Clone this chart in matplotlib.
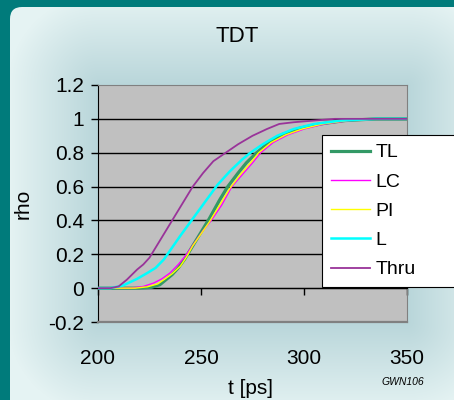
import numpy as np
import matplotlib.pyplot as plt
from matplotlib.patches import FancyBboxPatch
from matplotlib.colors import to_rgb

plt.rcParams['font.family'] = ['Liberation Sans', 'DejaVu Sans']

# data
t_tl = [200, 220, 226, 230, 233, 236, 239, 242, 245, 249, 254, 259, 263, 268, 272, 277, 283, 290, 298, 308, 320, 335, 350]
rho_tl = [0, 0, 0.005, 0.02, 0.05, 0.08, 0.12, 0.17, 0.23, 0.31, 0.41, 0.52, 0.60, 0.68, 0.74, 0.80, 0.86, 0.91, 0.945, 0.97, 0.99, 1.0, 1.0]
t_lc = [200, 216, 222, 227, 231, 235, 239, 243, 247, 251, 255, 260, 265, 270, 275, 279, 285, 292, 300, 310, 322, 337, 350]
rho_lc = [0, 0, 0.01, 0.03, 0.055, 0.09, 0.14, 0.20, 0.27, 0.34, 0.40, 0.49, 0.60, 0.67, 0.74, 0.80, 0.86, 0.905, 0.94, 0.97, 0.99, 1.0, 1.0]
t_pi = [200, 218, 224, 229, 232, 236, 240, 243, 246, 250, 254, 259, 264, 269, 274, 278, 284, 291, 299, 309, 321, 336, 350]
rho_pi = [0, 0, 0.008, 0.025, 0.05, 0.085, 0.13, 0.185, 0.25, 0.32, 0.39, 0.49, 0.59, 0.67, 0.74, 0.80, 0.86, 0.905, 0.94, 0.97, 0.99, 1.0, 1.0]
t_l = [200, 206, 212, 219, 224, 228, 232, 236, 240, 246, 252, 258, 264, 270, 274, 280, 287, 295, 305, 318, 335, 350]
rho_l = [0, 0, 0.015, 0.055, 0.09, 0.12, 0.17, 0.24, 0.31, 0.41, 0.51, 0.61, 0.69, 0.76, 0.80, 0.85, 0.90, 0.94, 0.97, 0.99, 1.0, 1.0]
t_thru = [200, 206, 210, 214, 219, 222, 225, 230, 236, 241, 246, 251, 256, 262, 268, 275, 282, 288, 295, 305, 315, 330, 350]
rho_thru = [0, 0, 0.01, 0.05, 0.11, 0.14, 0.18, 0.28, 0.40, 0.50, 0.60, 0.68, 0.75, 0.80, 0.85, 0.90, 0.94, 0.97, 0.98, 0.99, 1.0, 1.0, 1.0]

x_ticks = [200, 250, 300, 350]
y_ticks = [-0.2, 0, 0.2, 0.4, 0.6, 0.8, 1, 1.2]
y_labels = ['-0.2', '0', '0.2', '0.4', '0.6', '0.8', '1', '1.2']

W, H = 454, 400
fig = plt.figure(figsize=(W / 100, H / 100), dpi=100)
fig.patch.set_facecolor('#007b7b')

# light panel with a soft halo around the chart
bg = fig.add_axes([0, 0, 1, 1])
bg.set_xlim(0, W)
bg.set_ylim(H, 0)
bg.axis('off')
yy, xx = np.mgrid[0:H, 0:W]
x0, x1, y0, y1 = 98, 407, 85, 322
dx = np.maximum(np.maximum(x0 - xx, xx - x1), 0)
dy = np.maximum(np.maximum(y0 - yy, yy - y1), 0)
d = np.sqrt(dx ** 2 + dy ** 2)
f = np.clip(d / 90.0, 0, 1)[..., None]
c_near = np.array(to_rgb('#b9d6da'))
c_far = np.array(to_rgb('#e5f3f3'))
img = c_near * (1 - f) + c_far * f
im = bg.imshow(img, extent=(0, W, H, 0), zorder=0)
panel = FancyBboxPatch((10, 7), W + 40, H + 40, boxstyle='round,pad=0,rounding_size=12',
                       transform=bg.transData, facecolor='none', edgecolor='none')
bg.add_patch(panel)
im.set_clip_path(panel)

ax = fig.add_axes([x0 / W, 1 - y1 / H, (x1 - x0) / W, (y1 - y0) / H])
ax.set_facecolor('#c0c0c0')
ax.set_xlim(200, 350)
ax.set_ylim(-0.2, 1.2)

for y in y_ticks[1:-1]:
    ax.axhline(y, color='black', lw=1, zorder=1)

ax.plot(t_tl, rho_tl, color='#339966', lw=2.3, label='TL', zorder=3)
ax.plot(t_lc, rho_lc, color='#ff00ff', lw=1, label='LC', zorder=4)
ax.plot(t_pi, rho_pi, color='#ffff00', lw=1, label='PI', zorder=5)
ax.plot(t_l, rho_l, color='#00ffff', lw=1.8, label='L', zorder=6)
ax.plot(t_thru, rho_thru, color='#993399', lw=1.3, label='Thru', zorder=7)

for s in ['top', 'right']:
    ax.spines[s].set_color('#808080')
ax.spines['left'].set_color('black')
ax.spines['bottom'].set_position(('data', 0))
ax.spines['bottom'].set_color('black')
ax.plot([200, 350], [-0.2, -0.2], color='#808080', lw=1.6, clip_on=False, zorder=8)

ax.set_yticks(y_ticks)
ax.set_yticklabels(y_labels)
ax.set_xticks(x_ticks)
ax.tick_params(axis='y', direction='out', length=5, width=1, labelsize=15, pad=5)
ax.tick_params(axis='x', direction='in', length=5, width=1, labelsize=15, pad=44)
for tl in ax.xaxis.get_major_ticks():
    tl.tick1line.set_marker(3)  # tick pointing down from the zero line

ax.set_ylabel('rho', fontsize=15, labelpad=11)
fig.text(251 / W, 1 - 389 / H, 't [ps]', fontsize=15, ha='center', va='center')
fig.text(237 / W, 1 - 36 / H, 'TDT', fontsize=16, ha='center', va='center')
fig.text(403 / W, 1 - 382 / H, 'GWN106', fontsize=7.5, style='italic', ha='center', va='center')

leg = ax.legend(loc='upper left', bbox_to_anchor=(322 / W, 0, 150 / W, 1 - 135 / H),
                bbox_transform=fig.transFigure, mode='expand', fontsize=14, borderaxespad=0,
                handlelength=2.0, handletextpad=0.3, labelspacing=0.6, borderpad=0.45,
                fancybox=False, framealpha=1, edgecolor='black')
leg.get_frame().set_linewidth(0.8)
leg.set_zorder(20)

fig.savefig('out.png', dpi=100)
